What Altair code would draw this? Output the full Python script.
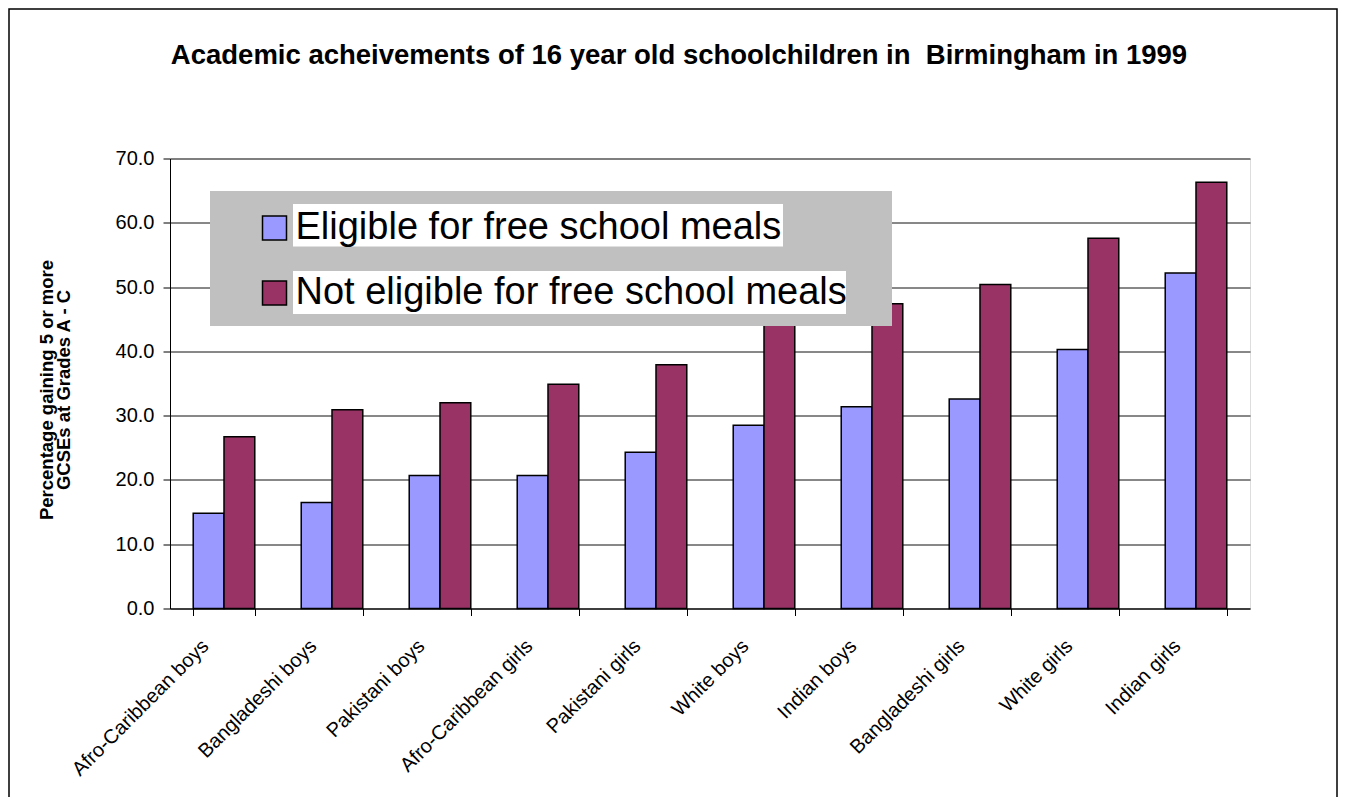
import altair as alt
import pandas as pd

# ---- data ----
groups = ["Afro-Caribbean boys", "Bangladeshi boys", "Pakistani boys", "Afro-Caribbean girls",
          "Pakistani girls", "White boys", "Indian boys", "Bangladeshi girls", "White girls", "Indian girls"]
series = ["Eligible for free school meals", "Not eligible for free school meals"]
eligible = [14.8, 16.5, 20.7, 20.7, 24.3, 28.5, 31.4, 32.6, 40.3, 52.2]
not_eligible = [26.7, 30.9, 32.0, 34.9, 37.9, 46.0, 47.4, 50.4, 57.6, 66.3]
y_ticks = [0, 10, 20, 30, 40, 50, 60, 70]
colors = ["#9999FF", "#993366"]
title_text = "Academic acheivements of 16 year old schoolchildren in \u00a0Birmingham in 1999"
y_title = ["Percentage gaining 5 or more", "GCSEs at Grades A - C"]

rows = []
for g, a, b in zip(groups, eligible, not_eligible):
    rows.append({"group": g, "series": series[0], "value": a})
    rows.append({"group": g, "series": series[1], "value": b})
df = pd.DataFrame(rows)

W, H = 1080, 450
FONT = "Liberation Sans"
one = pd.DataFrame({"k": [0]})

bars = alt.Chart(df).mark_bar(stroke="black", strokeWidth=1.5).encode(
    x=alt.X("group:N", sort=groups,
            scale=alt.Scale(paddingInner=0.43, paddingOuter=0.215),
            axis=alt.Axis(title=None, labelAngle=-45, labelFontSize=20, labelFont=FONT,
                          labelColor="black", tickBand="extent", tickSize=7, tickColor="black",
                          domainColor="black", labelPadding=20, labelOffset=-26,
                          labelLimit=0, grid=False)),
    xOffset=alt.XOffset("series:N", sort=series, scale=alt.Scale(paddingInner=0, paddingOuter=0)),
    y=alt.Y("value:Q", scale=alt.Scale(domain=[0, 70], nice=False),
            axis=alt.Axis(values=y_ticks, format=".1f", title=y_title, titleFont=FONT,
                          titleFontSize=18.5, titleFontWeight="bold", titleColor="black",
                          titleLineHeight=17.5, titleAngle=-90, titleAlign="center",
                          titleBaseline="top", titleX=-133, titleY=231,
                          labelFontSize=20, labelFont=FONT, labelColor="black", labelPadding=9,
                          tickSize=7, tickColor="black", domainColor="black",
                          grid=True, gridColor="#111111", gridWidth=1)),
    color=alt.Color("series:N", sort=series,
                    scale=alt.Scale(domain=series, range=colors),
                    legend=alt.Legend(orient="none", legendX=85.5, legendY=50.5, title=None,
                                      labelFontSize=38, labelFont=FONT, labelColor="black",
                                      symbolType="square", symbolSize=576,
                                      symbolStrokeColor="black", symbolStrokeWidth=1.5,
                                      symbolOpacity=1, labelOffset=2, rowPadding=27,
                                      padding=0, labelLimit=0)),
)

# legend backdrop (hides gridlines and bar tops as in the reference)
legend_box = alt.Chart(one).mark_rect(color="#C0C0C0").encode(
    x=alt.value(40), x2=alt.value(722), y=alt.value(32.5), y2=alt.value(167.5))
white1 = alt.Chart(one).mark_rect(color="white").encode(
    x=alt.value(123), x2=alt.value(613), y=alt.value(45.5), y2=alt.value(88))
white2 = alt.Chart(one).mark_rect(color="white").encode(
    x=alt.value(123), x2=alt.value(676), y=alt.value(112.5), y2=alt.value(155.5))
frame = alt.Chart(one).mark_rect(fillOpacity=0, stroke="black", strokeWidth=1.5).encode(
    x=alt.value(-161), x2=alt.value(1167), y=alt.value(-149.5), y2=alt.value(H + 300))

chart = alt.layer(bars, legend_box, white1, white2, frame).properties(
    width=W, height=H,
    autosize=alt.AutoSizeParams(type="none"),
    padding={"left": 162, "top": 150.5, "right": 88, "bottom": 188.5},
    title=alt.TitleParams(text=title_text, fontSize=27.5, font=FONT, fontWeight="bold",
                          color="black", anchor="middle", frame="group", dx=-31,
                          dy=174.5, offset=91, baseline="alphabetic"),
).configure_view(fill="#C0C0C0", stroke="#808080", strokeWidth=2
).configure(background="white")

chart.save("out.html", embed_options={"renderer": "svg", "actions": False})
